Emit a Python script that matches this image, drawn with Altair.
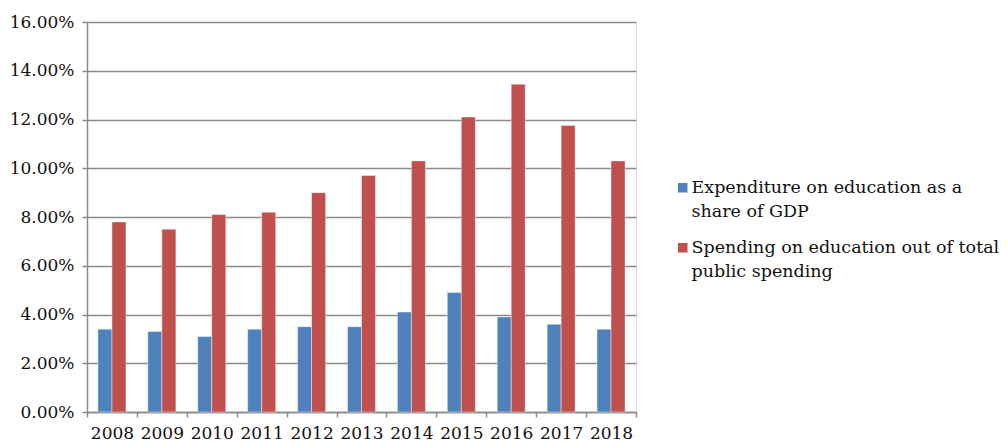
import altair as alt
import pandas as pd

years = ["2008", "2009", "2010", "2011", "2012", "2013", "2014", "2015", "2016", "2017", "2018"]
gdp_share = [3.4, 3.3, 3.1, 3.4, 3.5, 3.5, 4.1, 4.9, 3.9, 3.6, 3.4]
public_share = [7.8, 7.5, 8.1, 8.2, 9.0, 9.7, 10.3, 12.1, 13.45, 11.75, 10.3]
series = [
    "Expenditure on education as a share of GDP",
    "Spending on education out of total public spending",
]
colors = ["#4F81BD", "#C0504D"]
y_ticks = [0, 0.02, 0.04, 0.06, 0.08, 0.10, 0.12, 0.14, 0.16]

rows = []
for i, yr in enumerate(years):
    rows.append({"year": yr, "series": series[0], "value": gdp_share[i] / 100})
    rows.append({"year": yr, "series": series[1], "value": public_share[i] / 100})
df = pd.DataFrame(rows)

FONT = "DejaVu Serif"
GRID = "#8a8a8a"

label_expr = (
    f"datum.label == '{series[0]}' ? ['Expenditure on education as a', 'share of GDP']"
    " : ['Spending on education out of total', 'public spending']"
)

chart = (
    alt.Chart(df)
    .mark_bar(stroke="#ffffff", strokeWidth=0.6, strokeOpacity=0.7)
    .encode(
        x=alt.X(
            "year:N",
            sort=years,
            scale=alt.Scale(paddingInner=0, paddingOuter=0),
            axis=alt.Axis(
                title=None,
                labelAngle=0,
                tickBand="extent",
                grid=False,
                labelFont=FONT,
                labelFontSize=17,
                labelColor="#111111",
                labelPadding=8,
                tickSize=5,
                tickColor=GRID,
                tickWidth=1.5,
                domainColor=GRID,
                domainWidth=1.5,
            ),
        ),
        xOffset=alt.XOffset(
            "series:N", sort=series, scale=alt.Scale(paddingInner=0, paddingOuter=0.78)
        ),
        y=alt.Y(
            "value:Q",
            scale=alt.Scale(domain=[0, 0.16], nice=False),
            axis=alt.Axis(
                title=None,
                values=y_ticks,
                format=".2%",
                grid=True,
                gridColor=GRID,
                gridWidth=1.5,
                labelFont=FONT,
                labelFontSize=17,
                labelColor="#111111",
                labelPadding=8,
                tickSize=5,
                tickColor=GRID,
                tickWidth=1.5,
                domainColor=GRID,
                domainWidth=1.5,
            ),
        ),
        color=alt.Color(
            "series:N",
            sort=series,
            scale=alt.Scale(domain=series, range=colors),
            legend=alt.Legend(
                title=None,
                orient="none",
                legendX=587,
                legendY=157,
                symbolType="square",
                symbolSize=90,
                symbolStrokeWidth=0,
                labelFont=FONT,
                labelFontSize=17.5,
                labelColor="#111111",
                labelExpr=label_expr,
                labelLimit=400,
                labelOffset=0,
                rowPadding=17,
            ),
        ),
    )
    .properties(
        width=549,
        height=390,
        autosize=alt.AutoSizeParams(type="none"),
        padding={"left": 79, "top": 14, "right": 363, "bottom": 32},
    )
    .configure_view(stroke=None)
    .configure(style={"guide-label": {"lineHeight": 24}})
)

chart.save("out.html", embed_options={"renderer": "svg", "actions": False})
